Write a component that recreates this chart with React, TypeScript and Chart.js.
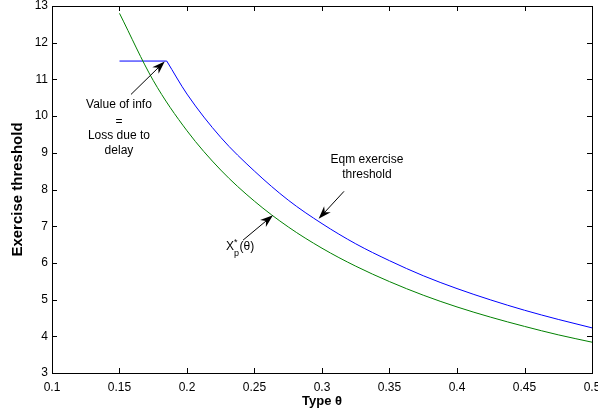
import React, { useEffect, useRef } from "react";
import { Chart, registerables } from "chart.js";

Chart.register(...registerables);

const thetaGreen = [0.15, 0.175, 0.2, 0.225, 0.25, 0.275, 0.3, 0.325, 0.35, 0.375, 0.4, 0.425, 0.45, 0.475, 0.5];
const xpStar = [12.8, 10.97, 9.6, 8.53, 7.68, 6.98, 6.4, 5.91, 5.49, 5.12, 4.8, 4.52, 4.27, 4.04, 3.84];

// flat part of the equilibrium threshold (value-of-information region)
const thetaBlueFlat = [0.15, 0.185];
const eqmFlat = [11.5, 11.5];
// decreasing part of the equilibrium threshold
const thetaBlue = [0.185, 0.2, 0.225, 0.25, 0.275, 0.3, 0.325, 0.35, 0.375, 0.4, 0.425, 0.45, 0.475, 0.5];
const eqmThreshold = [11.5, 10.6, 9.42, 8.5, 7.71, 7.07, 6.52, 6.06, 5.65, 5.3, 4.99, 4.71, 4.46, 4.23];

const xTicks = [0.1, 0.15, 0.2, 0.25, 0.3, 0.35, 0.4, 0.45, 0.5];
const yTicks = [3, 4, 5, 6, 7, 8, 9, 10, 11, 12, 13];

const FONT = "'Liberation Sans', Arial, sans-serif";

type Arrow = { from: [number, number]; to: [number, number] };
const arrows: Arrow[] = [
  { from: [0.1585, 10.59], to: [0.1835, 11.49] },
  { from: [0.3163, 7.95], to: [0.2975, 7.2] },
  { from: [0.2415, 6.62], to: [0.2637, 7.3] },
];
const labels: { text: string; x: number; y: number }[] = [
  { text: "Value of info", x: 0.1496, y: 10.3 },
  { text: "=", x: 0.1496, y: 9.84 },
  { text: "Loss due to", x: 0.1496, y: 9.46 },
  { text: "delay", x: 0.1496, y: 9.05 },
  { text: "Eqm exercise", x: 0.3333, y: 8.81 },
  { text: "threshold", x: 0.3333, y: 8.41 },
];

const decorPlugin = {
  id: "decor",
  afterDraw(chart: any) {
    const { ctx, chartArea: a, scales } = chart;
    const xs = scales.x;
    const ys = scales.y;
    ctx.save();
    ctx.strokeStyle = "#000";
    ctx.lineWidth = 1;
    ctx.strokeRect(Math.round(a.left) + 0.5, Math.round(a.top) + 0.5, Math.round(a.right - a.left), Math.round(a.bottom - a.top));
    ctx.beginPath();
    const tl = 5;
    xTicks.forEach((v) => {
      const px = Math.round(xs.getPixelForValue(v)) + 0.5;
      ctx.moveTo(px, a.bottom);
      ctx.lineTo(px, a.bottom - tl);
      ctx.moveTo(px, a.top);
      ctx.lineTo(px, a.top + tl);
    });
    yTicks.forEach((v) => {
      const py = Math.round(ys.getPixelForValue(v)) + 0.5;
      ctx.moveTo(a.left, py);
      ctx.lineTo(a.left + tl, py);
      ctx.moveTo(a.right, py);
      ctx.lineTo(a.right - tl, py);
    });
    ctx.stroke();

    arrows.forEach((ar) => {
      const x1 = xs.getPixelForValue(ar.from[0]);
      const y1 = ys.getPixelForValue(ar.from[1]);
      const x2 = xs.getPixelForValue(ar.to[0]);
      const y2 = ys.getPixelForValue(ar.to[1]);
      const ang = Math.atan2(y2 - y1, x2 - x1);
      const hl = 13;
      const hw = 4.5;
      ctx.beginPath();
      ctx.strokeStyle = "#000";
      ctx.lineWidth = 1;
      ctx.moveTo(x1, y1);
      ctx.lineTo(x2 - Math.cos(ang) * hl * 0.6, y2 - Math.sin(ang) * hl * 0.6);
      ctx.stroke();
      const bx = x2 - Math.cos(ang) * hl;
      const by = y2 - Math.sin(ang) * hl;
      const mx = x2 - Math.cos(ang) * hl * 0.7;
      const my = y2 - Math.sin(ang) * hl * 0.7;
      ctx.beginPath();
      ctx.fillStyle = "#000";
      ctx.moveTo(x2, y2);
      ctx.lineTo(bx - Math.sin(ang) * hw, by + Math.cos(ang) * hw);
      ctx.lineTo(mx, my);
      ctx.lineTo(bx + Math.sin(ang) * hw, by - Math.cos(ang) * hw);
      ctx.closePath();
      ctx.fill();
    });

    ctx.fillStyle = "#000";
    ctx.font = `12px ${FONT}`;
    ctx.textAlign = "center";
    ctx.textBaseline = "middle";
    labels.forEach((l) => {
      ctx.fillText(l.text, xs.getPixelForValue(l.x), ys.getPixelForValue(l.y));
    });
    const lx = xs.getPixelForValue(0.2289);
    const ly = ys.getPixelForValue(6.43);
    ctx.textAlign = "left";
    ctx.font = `12px ${FONT}`;
    ctx.fillText("X", lx, ly);
    const wX = ctx.measureText("X").width;
    ctx.font = `9px ${FONT}`;
    ctx.fillText("*", lx + wX, ly - 5);
    ctx.fillText("p", lx + wX, ly + 6);
    const wS = ctx.measureText("p").width;
    ctx.font = `12px ${FONT}`;
    ctx.fillText("(θ)", lx + wX + wS + 0.5, ly);
    ctx.restore();
  },
};

export default function App() {
  const ref = useRef<HTMLCanvasElement>(null);
  useEffect(() => {
    document.body.style.margin = "0";
    const chart = new Chart(ref.current!, {
      type: "line",
      data: {
        datasets: [
          {
            label: "X_p*(θ)",
            data: thetaGreen.map((t, i) => ({ x: t, y: xpStar[i] })),
            borderColor: "#008000",
            borderWidth: 1,
            pointRadius: 0,
            cubicInterpolationMode: "monotone",
          },
          {
            label: "Eqm exercise threshold (flat)",
            data: thetaBlueFlat.map((t, i) => ({ x: t, y: eqmFlat[i] })),
            borderColor: "#0000ff",
            borderWidth: 1,
            pointRadius: 0,
            tension: 0,
          },
          {
            label: "Eqm exercise threshold",
            data: thetaBlue.map((t, i) => ({ x: t, y: eqmThreshold[i] })),
            borderColor: "#0000ff",
            borderWidth: 1,
            pointRadius: 0,
            cubicInterpolationMode: "monotone",
          },
        ],
      },
      options: {
        responsive: false,
        animation: false,
        events: [],
        layout: { padding: { top: 6, right: 6, left: 0, bottom: 0 } },
        plugins: { legend: { display: false }, tooltip: { enabled: false } },
        scales: {
          x: {
            type: "linear",
            min: 0.1,
            max: 0.5,
            afterBuildTicks: (s: any) => {
              s.ticks = xTicks.map((v) => ({ value: v }));
            },
            ticks: {
              color: "#000",
              font: { family: FONT, size: 12 },
              padding: 7,
              maxRotation: 0,
              autoSkip: false,
              callback: (v: any) => String(+Number(v).toFixed(2)),
            },
            grid: { display: false, drawTicks: false },
            border: { display: false },
            title: {
              display: true,
              text: "Type θ",
              color: "#000",
              font: { family: FONT, size: 13, weight: "bold" },
              padding: { top: 2, bottom: 2 },
            },
            afterFit: (s: any) => {
              s.height = 38;
              s.paddingLeft = 0;
              s.paddingRight = 0;
            },
          },
          y: {
            type: "linear",
            min: 3,
            max: 13,
            afterBuildTicks: (s: any) => {
              s.ticks = yTicks.map((v) => ({ value: v }));
            },
            ticks: {
              color: "#000",
              font: { family: FONT, size: 12 },
              padding: 4,
              autoSkip: false,
            },
            grid: { display: false, drawTicks: false },
            border: { display: false },
            title: {
              display: true,
              text: "Exercise threshold",
              color: "#000",
              font: { family: FONT, size: 15, weight: "bold" },
              padding: { top: 9, bottom: 4 },
            },
            afterFit: (s: any) => {
              s.width = 52;
              s.paddingTop = 0;
              s.paddingBottom = 0;
            },
          },
        },
      },
      plugins: [decorPlugin],
    } as any);
    return () => chart.destroy();
  }, []);
  return <canvas ref={ref} width={598} height={411} style={{ display: "block" }} />;
}
